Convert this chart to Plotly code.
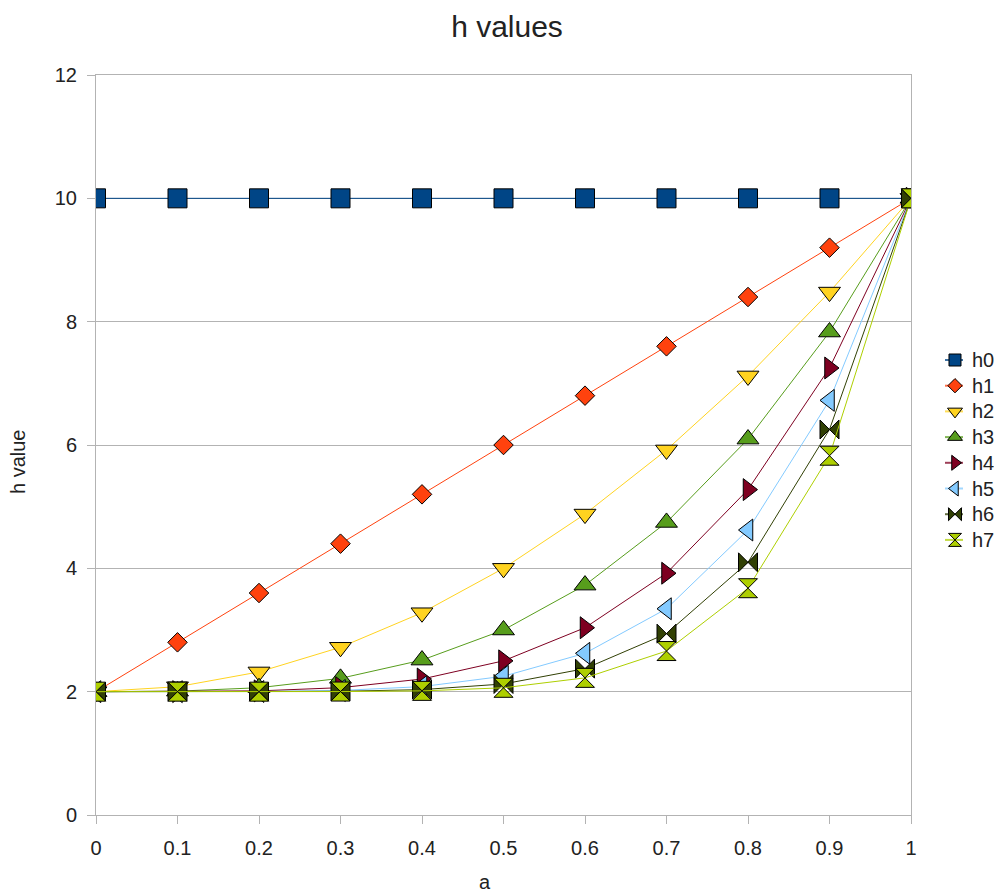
import plotly.graph_objects as go

a_values = [0, 0.1, 0.2, 0.3, 0.4, 0.5, 0.6, 0.7, 0.8, 0.9, 1]

h0 = [10, 10, 10, 10, 10, 10, 10, 10, 10, 10, 10]
h1 = [2, 2.8, 3.6, 4.4, 5.2, 6.0, 6.8, 7.6, 8.4, 9.2, 10]
h2 = [2, 2.08, 2.32, 2.72, 3.28, 4.0, 4.88, 5.92, 7.12, 8.48, 10]
h3 = [2, 2.008, 2.064, 2.216, 2.512, 3.0, 3.728, 4.744, 6.096, 7.832, 10]
h4 = [2, 2.0008, 2.0128, 2.0648, 2.2048, 2.5, 3.0368, 3.9208, 5.2768, 7.2488, 10]
h5 = [2, 2.0001, 2.0026, 2.0194, 2.0819, 2.25, 2.6221, 3.3446, 4.6214, 6.7239, 10]
h6 = [2, 2.0, 2.0005, 2.0058, 2.0328, 2.125, 2.3732, 2.9412, 4.0972, 6.2515, 10]
h7 = [2, 2.0, 2.0001, 2.0017, 2.0131, 2.0625, 2.2239, 2.6588, 3.6777, 5.8264, 10]

y_ticks = [0, 2, 4, 6, 8, 10, 12]

series_names = ["h0", "h1", "h2", "h3", "h4", "h5", "h6", "h7"]
series_values = [h0, h1, h2, h3, h4, h5, h6, h7]
series_colors = ["#004586", "#ff420e", "#ffd320", "#579d1c",
                 "#7e0021", "#83caff", "#314004", "#aecf00"]
series_symbols = ["square", "diamond", "triangle-down", "triangle-up",
                  "triangle-right", "triangle-left", "bowtie", "hourglass"]
series_sizes = [19, 15, 19, 19, 19, 19, 19, 19]
legend_sizes = [12, 11, 13, 13, 13, 13, 13, 13]

font_family = "Liberation Sans, Arial, sans-serif"
text_color = "#222222"
axis_color = "#b3b3b3"

# page geometry (pixels)
W, H = 994, 895
M_L, M_R, M_T, M_B = 96, 0, 75, 80
PLOT_RIGHT = 911
area_w = W - M_L - M_R
area_h = H - M_T - M_B
main_dom = (PLOT_RIGHT - M_L) / area_w
leg_dom0 = 0.92

fig = go.Figure()
for name, vals, color, symbol, size in zip(series_names, series_values,
                                            series_colors, series_symbols, series_sizes):
    fig.add_trace(go.Scatter(
        x=a_values, y=vals, name=name, mode="lines+markers",
        line=dict(color=color, width=1),
        marker=dict(symbol=symbol, size=size, color=color,
                    line=dict(color="#000000", width=1)),
        showlegend=False,
    ))

# legend drawn on an auxiliary pixel-scaled axis pair to the right of the plot
LEG_LINE_X0, LEG_LINE_X1, LEG_MARK_X, LEG_TEXT_X = 945, 963, 955, 970
LEG_ROW0, LEG_ROW_STEP = 360, 25.7
for i, (name, color, symbol, size) in enumerate(zip(series_names, series_colors,
                                                    series_symbols, legend_sizes)):
    ry = LEG_ROW0 + i * LEG_ROW_STEP
    fig.add_trace(go.Scatter(
        x=[LEG_LINE_X0, LEG_LINE_X1], y=[ry, ry], mode="lines",
        line=dict(color=color, width=2), opacity=0.75,
        xaxis="x2", yaxis="y2", showlegend=False, hoverinfo="skip",
    ))
    fig.add_trace(go.Scatter(
        x=[LEG_MARK_X], y=[ry], mode="markers",
        marker=dict(symbol=symbol, size=size, color=color,
                    line=dict(color="#000000", width=1)),
        xaxis="x2", yaxis="y2", showlegend=False, hoverinfo="skip",
    ))
    fig.add_annotation(
        x=LEG_TEXT_X, y=ry, xref="x2", yref="y2", text=name, showarrow=False,
        xanchor="left", yanchor="middle", font=dict(size=20, color=text_color),
    )

# axis titles
fig.add_annotation(x=(485 - M_L) / area_w, y=(M_T + area_h - 882) / area_h,
                   xref="paper", yref="paper", text="a", showarrow=False,
                   xanchor="center", yanchor="middle",
                   font=dict(size=20, color=text_color))
fig.add_annotation(x=(18 - M_L) / area_w, y=(M_T + area_h - 462) / area_h,
                   xref="paper", yref="paper", text="h value", showarrow=False,
                   textangle=-90, xanchor="center", yanchor="middle",
                   font=dict(size=20, color=text_color))

fig.update_layout(
    width=W, height=H,
    margin=dict(l=M_L, r=M_R, t=M_T, b=M_B, autoexpand=False),
    paper_bgcolor="white", plot_bgcolor="white",
    font=dict(family=font_family, size=20, color=text_color),
    title=dict(text="h values", xref="container", x=507 / W, xanchor="center",
               yref="container", y=1 - 26 / H, yanchor="middle",
               font=dict(size=30, color=text_color, family=font_family)),
    showlegend=False,
    xaxis=dict(
        domain=[0, main_dom],
        range=[0, 1], tickvals=a_values, ticktext=[f"{v:g}" for v in a_values],
        showgrid=False, showline=True, linecolor=axis_color, linewidth=1, mirror=True,
        ticks="outside", ticklen=8, tickcolor=axis_color, zeroline=False,
        ticklabelstandoff=7, tickfont=dict(size=20),
    ),
    yaxis=dict(
        range=[0, 12], tickvals=y_ticks,
        showgrid=True, gridcolor=axis_color, gridwidth=1,
        showline=True, linecolor=axis_color, linewidth=1, mirror=True,
        ticks="outside", ticklen=8, tickcolor=axis_color, zeroline=False,
        ticklabelstandoff=6, tickfont=dict(size=20),
    ),
    xaxis2=dict(domain=[leg_dom0, 1], range=[M_L + leg_dom0 * area_w, W - M_R],
                visible=False, anchor="y2", fixedrange=True),
    yaxis2=dict(domain=[0, 1], range=[M_T + area_h, M_T], visible=False,
                anchor="x2", fixedrange=True),
)

fig.write_html("out.html")
